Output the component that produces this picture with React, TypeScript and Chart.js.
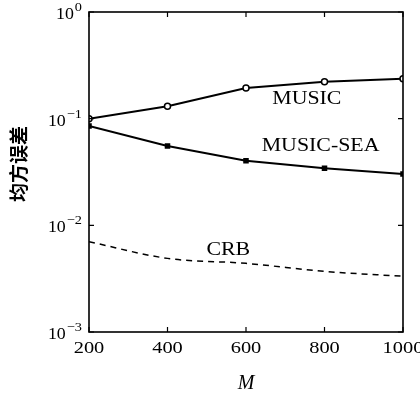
import React, { useEffect, useRef } from "react";
import { Chart, registerables } from "chart.js";

Chart.register(...registerables);

const mValues = [200, 400, 600, 800, 1000];
const musicValues = [0.1, 0.131, 0.194, 0.222, 0.237];
const musicSeaValues = [0.0855, 0.0555, 0.0404, 0.0343, 0.0303];
const crbValues = [0.00702, 0.0049, 0.0044, 0.0037, 0.00333];
const xTicks = [200, 400, 600, 800, 1000];
const yTickExps = [0, -1, -2, -3];
const seriesNames = ["MUSIC", "MUSIC-SEA", "CRB"];

const SERIF = "'Liberation Serif', 'DejaVu Serif', serif";

function stretchText(ctx: any, text: string, x: number, y: number, sx: number, align: string) {
  ctx.save();
  ctx.translate(x, y);
  ctx.scale(sx, 1);
  ctx.textAlign = align;
  ctx.fillText(text, 0, 0);
  ctx.restore();
}

const framePlugin = {
  id: "frame",
  afterDraw(chart: any) {
    const { ctx, chartArea } = chart;
    const xs = chart.scales.x;
    const ys = chart.scales.y;
    const { left, right, top, bottom } = chartArea;
    ctx.save();
    ctx.strokeStyle = "#000";
    ctx.lineWidth = 1.6;
    ctx.strokeRect(left, top, right - left, bottom - top);
    ctx.lineWidth = 1.2;
    xTicks.forEach((v) => {
      const px = xs.getPixelForValue(v);
      ctx.beginPath();
      ctx.moveTo(px, bottom);
      ctx.lineTo(px, bottom - 5);
      ctx.moveTo(px, top);
      ctx.lineTo(px, top + 5);
      ctx.stroke();
    });
    yTickExps.forEach((e) => {
      const py = ys.getPixelForValue(Math.pow(10, e));
      ctx.beginPath();
      ctx.moveTo(left, py);
      ctx.lineTo(left + 5, py);
      ctx.moveTo(right, py);
      ctx.lineTo(right - 5, py);
      ctx.stroke();
    });
    ctx.fillStyle = "#000";
    // x tick labels
    ctx.font = `17px ${SERIF}`;
    ctx.textBaseline = "alphabetic";
    xTicks.forEach((v) => {
      const px = xs.getPixelForValue(v);
      stretchText(ctx, String(v), px, bottom + 21, 1.2, "center");
    });
    // y tick labels
    yTickExps.forEach((e) => {
      const py = ys.getPixelForValue(Math.pow(10, e));
      ctx.font = `13px ${SERIF}`;
      ctx.textBaseline = "alphabetic";
      const sup = e === 0 ? "0" : "\u2212" + String(-e);
      const supW = ctx.measureText(sup).width * 1.1;
      const supX = left - 7;
      stretchText(ctx, sup, supX, py - 1, 1.1, "right");
      ctx.font = `17px ${SERIF}`;
      stretchText(ctx, "10", supX - supW - 1, py + 7, 1.05, "right");
    });
    // x title
    ctx.font = `italic 20px ${SERIF}`;
    ctx.textAlign = "center";
    ctx.textBaseline = "middle";
    ctx.fillText("M", (left + right) / 2, 384);
    // y title
    ctx.save();
    ctx.translate(19, 164);
    ctx.rotate(-Math.PI / 2);
    ctx.font = `bold 19px 'Noto Sans CJK SC', sans-serif`;
    ctx.textAlign = "center";
    ctx.textBaseline = "middle";
    ctx.fillText("均方误差", 0, 0);
    ctx.restore();
    // series annotations
    ctx.font = `19px ${SERIF}`;
    ctx.textBaseline = "middle";
    stretchText(ctx, seriesNames[0], xs.getPixelForValue(755), ys.getPixelForValue(0.153), 1.15, "center");
    stretchText(ctx, seriesNames[1], xs.getPixelForValue(790), ys.getPixelForValue(0.0555), 1.15, "center");
    stretchText(ctx, seriesNames[2], xs.getPixelForValue(555), ys.getPixelForValue(0.0059), 1.15, "center");
    ctx.restore();
  },
};

export default function App() {
  const ref = useRef<HTMLCanvasElement | null>(null);
  useEffect(() => {
    document.body.style.margin = "0";
    const canvas = ref.current!;
    const chart = new Chart(canvas, {
      type: "line",
      data: {
        datasets: [
          {
            label: seriesNames[0],
            data: mValues.map((m, i) => ({ x: m, y: musicValues[i] })),
            borderColor: "#000",
            borderWidth: 2,
            pointStyle: "circle",
            pointRadius: 3,
            pointBackgroundColor: "#fff",
            pointBorderColor: "#000",
            pointBorderWidth: 1.5,
            tension: 0,
          },
          {
            label: seriesNames[1],
            data: mValues.map((m, i) => ({ x: m, y: musicSeaValues[i] })),
            borderColor: "#000",
            borderWidth: 2,
            pointStyle: "rect",
            pointRadius: 2.5,
            pointBackgroundColor: "#000",
            pointBorderColor: "#000",
            tension: 0,
          },
          {
            label: seriesNames[2],
            data: mValues.map((m, i) => ({ x: m, y: crbValues[i] })),
            borderColor: "#000",
            borderWidth: 1.5,
            borderDash: [6, 5],
            pointRadius: 0,
            cubicInterpolationMode: "monotone",
          },
        ],
      },
      options: {
        animation: false,
        responsive: false,
        maintainAspectRatio: false,
        layout: { padding: { left: 89, right: 17, top: 12, bottom: 65 } },
        plugins: { legend: { display: false }, tooltip: { enabled: false } },
        scales: {
          x: { type: "linear", min: 200, max: 1000, display: false },
          y: { type: "logarithmic", min: 0.001, max: 1, display: false },
        },
      },
      plugins: [framePlugin],
    });
    return () => chart.destroy();
  }, []);
  return <canvas ref={ref} width={420} height={397} style={{ display: "block" }} />;
}
